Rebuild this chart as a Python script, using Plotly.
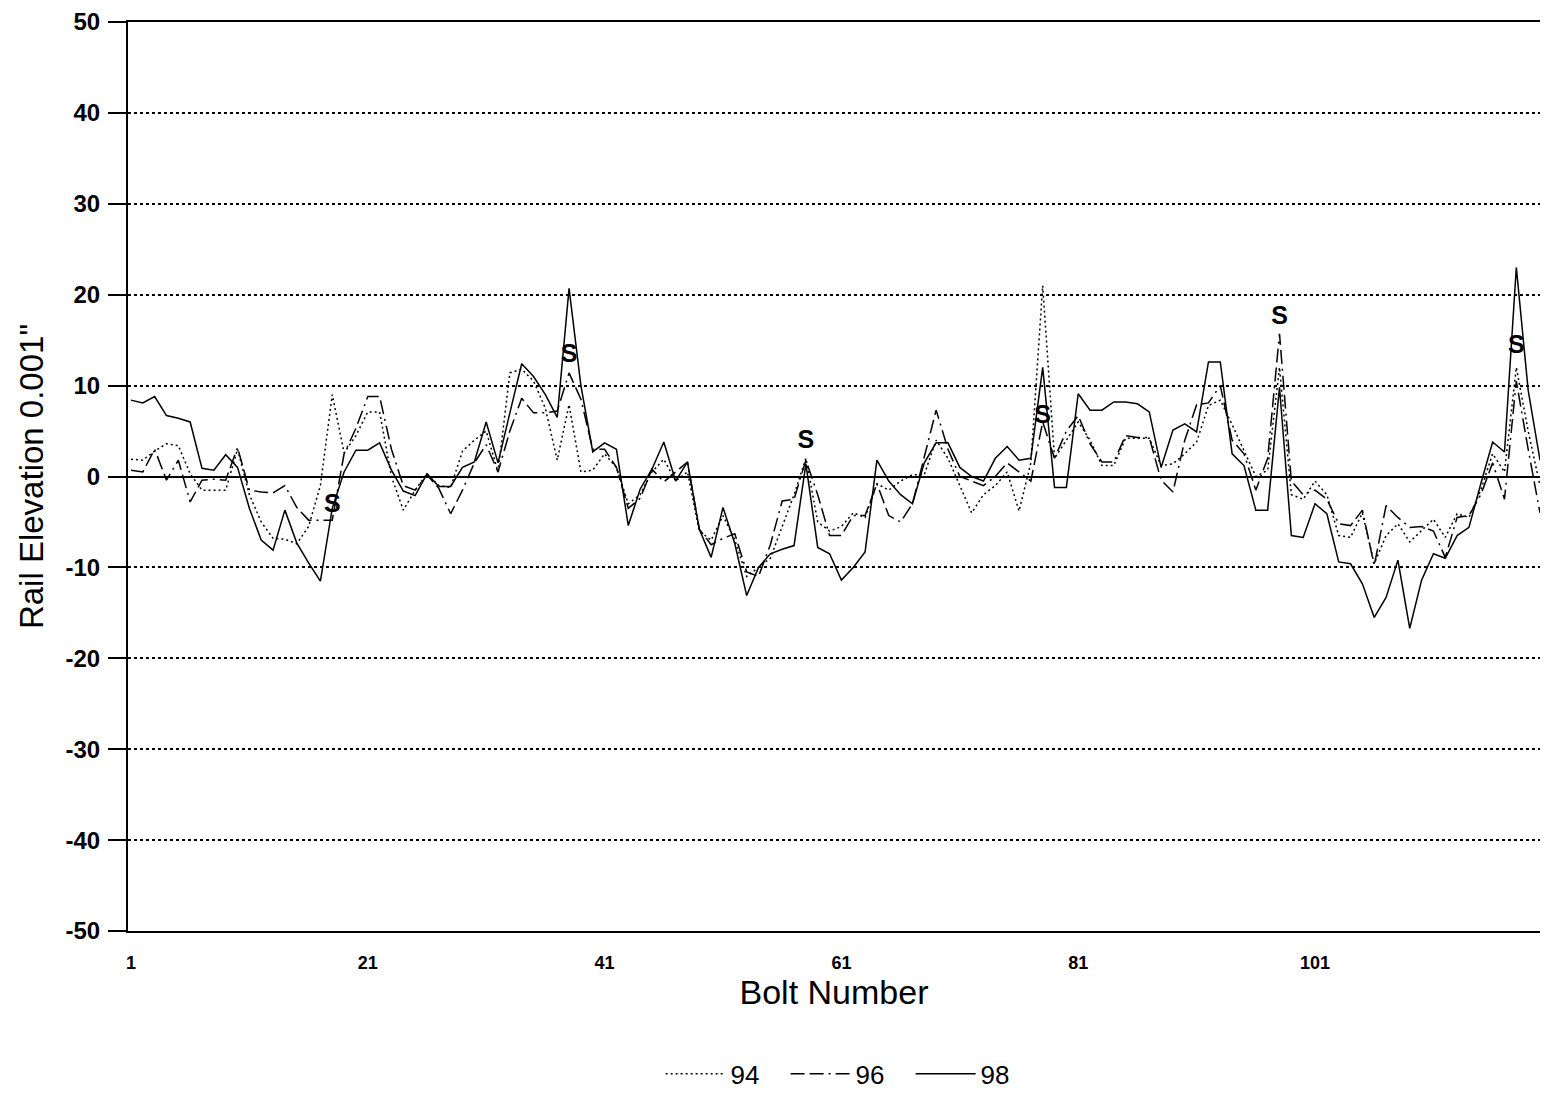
import plotly.graph_objects as go

bolts = list(range(1, 121))

y94 = [1.9, 1.8, 2.8, 3.6, 3.4, 0.3, -1.5, -1.5, -1.5, 3.0,
       -2.0, -5.0, -6.8, -6.9, -7.4, -5.5, -1.0, 9.0, 2.6, 4.5,
       7.1, 7.1, 0.0, -3.7, -1.5, 0.3, -1.0, -1.2, 2.8, 4.0,
       5.0, 0.5, 11.4, 11.8, 10.5, 7.5, 1.8, 7.9, 0.5, 0.7,
       2.5, 1.0, -3.0, -2.0, 0.5, 1.9, -0.5, 0.5, -6.0, -7.0,
       -4.3, -7.0, -11.0, -10.0, -9.0, -5.5, -2.0, 2.0, -5.0, -6.0,
       -5.5, -4.0, -4.5, -0.8, -1.5, -0.5, 0.2, 0.2, 4.0, 2.0,
       -1.0, -4.0, -2.0, -1.0, 0.5, -3.8, 1.5, 21.0, 2.0, 4.0,
       6.0, 4.0, 1.2, 1.2, 4.2, 4.2, 4.2, 1.2, 1.4, 2.5,
       3.8, 7.8, 8.4, 5.7, 2.9, 0.0, 0.7, 12.0, -2.0, -2.5,
       -0.5, -2.0, -6.5, -6.7, -4.0, -9.6, -6.5, -5.2, -7.2, -6.0,
       -4.7, -6.7, -4.1, -4.5, -1.5, 2.5, 0.5, 12.0, 5.0, -1.0]

y96 = [0.7, 0.5, 3.0, -0.4, 1.8, -2.8, -0.4, -0.3, -0.4, 3.2,
       -1.5, -1.7, -1.8, -1.0, -3.4, -4.8, -4.8, -4.8, 2.5, 5.3,
       8.8, 8.8, 3.0, -1.0, -1.5, 0.2, -1.3, -4.1, -1.5, 1.5,
       3.5, 0.5, 5.0, 8.6, 7.0, 7.0, 7.2, 11.4, 8.5, 3.0,
       3.0, 1.0, -3.5, -2.4, 0.8, -0.6, 0.5, 1.6, -5.8, -7.5,
       -6.8, -6.3, -10.5, -11.0, -7.5, -2.7, -2.5, 1.8, -2.0, -6.5,
       -6.5, -4.3, -4.3, -0.8, -4.3, -5.0, -3.0, 2.0, 7.3, 3.0,
       0.0, -0.5, -1.0, 0.0, 1.5, 0.5, -0.5, 6.0, 2.0, 5.0,
       6.7, 3.6, 1.6, 1.6, 4.5, 4.3, 4.3, -0.4, -1.7, 4.0,
       7.9, 8.1, 10.0, 4.0, 2.5, -1.5, 2.0, 15.7, -0.5, -2.0,
       -1.5, -2.5, -5.2, -5.4, -3.7, -9.8, -3.2, -4.5, -5.6, -5.5,
       -6.0, -8.9, -4.5, -4.3, -2.0, 1.5, -2.5, 10.5, 3.0, -4.0]

y98 = [8.4, 8.1, 8.8, 6.7, 6.4, 6.0, 0.9, 0.7, 2.4, 1.0,
       -3.5, -7.0, -8.1, -3.7, -7.3, -9.5, -11.5, -3.5, 0.5, 2.9,
       2.9, 3.7, 0.7, -1.6, -2.1, 0.3, -1.1, -1.1, 1.0, 1.6,
       6.0, 1.5, 7.0, 12.4, 11.0, 9.0, 6.5, 20.7, 10.0, 2.7,
       3.7, 3.0, -5.4, -1.4, 0.8, 3.8, -0.5, 1.6, -5.8, -8.9,
       -3.4, -7.4, -13.1, -10.0, -8.5, -8.0, -7.6, 1.4, -7.8, -8.5,
       -11.4, -10.0, -8.3, 1.8, -0.5, -2.0, -3.0, 1.5, 3.7, 3.7,
       1.0, 0.0, -0.5, 2.0, 3.3, 1.8, 2.0, 12.0, -1.2, -1.2,
       9.1, 7.3, 7.3, 8.2, 8.2, 8.0, 7.1, 1.0, 5.1, 5.8,
       4.9, 12.6, 12.6, 2.5, 1.2, -3.7, -3.7, 9.8, -6.5, -6.7,
       -3.0, -4.1, -9.4, -9.6, -11.8, -15.5, -13.3, -9.2, -16.7, -11.4,
       -8.5, -9.0, -6.5, -5.6, -0.8, 3.8, 2.7, 23.0, 9.5, 1.8]

s_bolts = [18, 38, 58, 78, 98, 118]
s_vals = [-3.2, 13.3, 3.8, 6.6, 17.5, 14.3]
s_text = ["S", "S", "S", "S", "S", "S"]

x_ticks = [1, 21, 41, 61, 81, 101]
y_ticks = [-50, -40, -30, -20, -10, 0, 10, 20, 30, 40, 50]

font = "Liberation Sans, Arial, sans-serif"

fig = go.Figure()
fig.add_trace(go.Scatter(x=bolts, y=y94, mode="lines", name="94",
                         line=dict(color="black", width=1.5, dash="2px,3px")))
fig.add_trace(go.Scatter(x=bolts, y=y96, mode="lines", name="96",
                         line=dict(color="black", width=1.5,
                                   dash="14px,5px,14px,5px,2px,5px")))
fig.add_trace(go.Scatter(x=bolts, y=y98, mode="lines", name="98",
                         line=dict(color="black", width=1.5)))
fig.add_trace(go.Scatter(x=s_bolts, y=s_vals, mode="text", text=s_text,
                         showlegend=False, hoverinfo="skip",
                         textfont=dict(family=font, size=25, color="black",
                                       weight="bold")))

fig.update_layout(
    width=1532, height=1091,
    paper_bgcolor="white", plot_bgcolor="white",
    margin=dict(l=120, r=0, t=14, b=168),
    font=dict(family=font, color="black"),
    showlegend=True,
    legend=dict(orientation="h", x=0.51, xanchor="center", y=-0.183,
                yanchor="bottom", font=dict(size=26, family=font),
                itemwidth=60, entrywidth=50, entrywidthmode="pixels",
                tracegroupgap=0),
    xaxis=dict(
        range=[0.75, 120.0], automargin=False,
        tickvals=x_ticks, ticktext=[str(v) for v in x_ticks],
        tickfont=dict(size=18, family=font, weight="bold"),
        ticklabelstandoff=14,
        showgrid=False, zeroline=False,
        showline=True, linecolor="black", linewidth=2, mirror=True,
        ticks="", title=dict(text="Bolt Number", standoff=4,
                             font=dict(size=34, family=font)),
    ),
    yaxis=dict(
        range=[-50, 50], automargin=False,
        tickvals=y_ticks, ticktext=[str(v) for v in y_ticks],
        tickfont=dict(size=24, family=font, weight="bold"),
        ticklabelstandoff=3, ticklabeloverflow="allow",
        showgrid=True, gridcolor="black", gridwidth=1.5, griddash="dot",
        zeroline=True, zerolinecolor="black", zerolinewidth=2,
        showline=True, linecolor="black", linewidth=2, mirror=True,
        ticks="outside", ticklen=18, tickwidth=1.5, tickcolor="black",
        title=dict(text="Rail Elevation 0.001\"", standoff=12,
                   font=dict(size=33, family=font)),
    ),
)

fig.write_html("out.html")
